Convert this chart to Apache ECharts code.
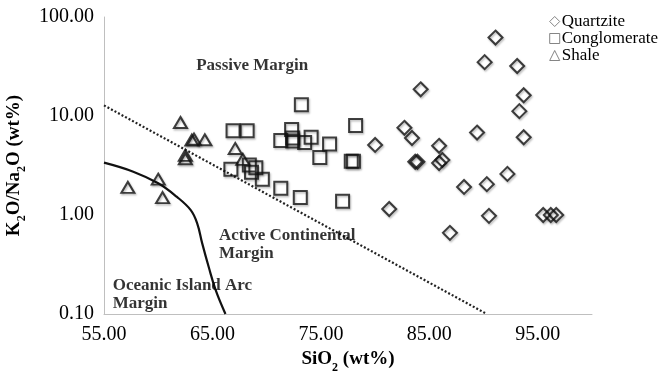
<!DOCTYPE html>
<html><head><meta charset="utf-8">
<script src="https://cdn.jsdelivr.net/npm/echarts@6.0.0/dist/echarts.min.js"></script>
<style>html,body{margin:0;padding:0;background:#fff}#c{width:663px;height:371px}</style>
</head><body><div id="c"></div>
<script>
// ---- data (SiO2 wt%, K2O/Na2O) ----
const quartzite = [
  [80.0,5.1],[81.3,1.15],[82.7,7.6],[83.4,6.0],[83.7,3.45],[83.9,3.45],[84.2,18.6],
  [85.9,5.0],[85.9,3.35],[86.2,3.6],[86.9,0.66],[88.2,1.92],[89.4,6.8],[90.1,35],
  [90.3,2.05],[90.5,0.98],[91.1,62],[92.2,2.6],[93.1,32],[93.3,11.2],[93.7,16.2],
  [93.7,6.1],[95.5,1.0],[96.2,1.0],[96.7,1.0]
];
const conglomerate = [
  [66.9,7.1],[68.2,7.1],[72.3,7.3],[73.2,13.0],[71.3,5.65],[72.4,6.0],[72.4,5.6],
  [73.5,5.4],[74.1,6.1],[75.8,5.2],[74.9,3.8],[78.2,8.0],[77.8,3.5],[78.0,3.5],
  [66.7,2.9],[68.4,3.2],[69.0,3.0],[68.6,2.7],[69.6,2.3],[71.3,1.86],[73.1,1.5],[77.0,1.38]
];
const shale = [
  [57.2,1.9],[60.0,2.3],[60.4,1.5],[62.05,8.6],[63.1,5.7],[63.3,5.85],[64.3,5.75],
  [62.5,4.0],[62.5,3.7],[67.1,4.7],[67.8,3.65]
];
// discrimination boundaries
const passiveActiveLine = [[55,12.8],[90.3,0.1]];
const arcBoundaryCurve = [
  [55,3.38],[57.7,2.74],[60.0,2.09],[61.7,1.53],[63.0,1.12],[63.6,0.82],
  [64.05,0.52],[64.65,0.30],[65.3,0.174],[66.2,0.1]
];
// field labels (placed in data space)
const fieldLabels = [
  {name:'Passive Margin', value:[63.5,32.4]},
  {name:'Active Continental\nMargin', value:[65.6,0.50]},
  {name:'Oceanic Island Arc\nMargin', value:[55.8,0.157]}
];
const xTickLabels = [55,65,75,85,95];

const FONT = '"Liberation Serif", "Times New Roman", serif';
const chart = echarts.init(document.getElementById('c'), null, {renderer:'canvas'});

const markerStyle = {
  color: 'rgba(255,255,255,0)', borderColor: '#111', borderWidth: 2,
  shadowColor: 'rgba(0,0,0,0.35)', shadowBlur: 2, shadowOffsetX: 1, shadowOffsetY: 1.5
};
const titleRich = {
  b: {fontFamily: FONT, fontWeight:'bold', fontSize: 19, color:'#000', lineHeight: 24, verticalAlign:'top'},
  s: {fontFamily: FONT, fontWeight:'bold', fontSize: 12, color:'#000', lineHeight: 13, verticalAlign:'bottom'}
};

chart.setOption({
  animation: false,
  backgroundColor: '#fff',
  grid: {left: 104, right: 71, top: 17, bottom: 57, containLabel: false, outerBoundsMode: 'none'},
  legend: {
    orient: 'vertical', right: 0, top: 8, itemGap: 0,
    itemWidth: 10, itemHeight: 10,
    data: ['Quartzite','Conglomerate','Shale'],
    itemStyle: {color:'rgba(255,255,255,0)', borderColor:'#666', borderWidth:1, shadowBlur:0, shadowOffsetX:0, shadowOffsetY:0},
    textStyle: {fontFamily: FONT, fontSize: 17, color:'#000', padding:[0,0,0,-3]}
  },
  xAxis: {
    type: 'value', min: 55, max: 100, interval: 5,
    name: '{b|SiO}{s|2}{b| (wt%)}', nameLocation: 'middle', nameGap: 36,
    nameTextStyle: {rich: titleRich},
    axisLine: {show: true, lineStyle: {color:'#bfbfbf', width:1}},
    axisTick: {show: false},
    splitLine: {show: false},
    axisLabel: {
      fontFamily: FONT, fontSize: 20, color:'#000', margin: 11,
      formatter: v => xTickLabels.indexOf(Math.round(v)) >= 0 ? v.toFixed(2) : ''
    }
  },
  yAxis: {
    type: 'log', logBase: 10, min: 0.1, max: 100, interval: 1,
    name: '{b|K}{s|2}{b|O/Na}{s|2}{b|O (wt%)}', nameLocation: 'middle', nameGap: 75, nameRotate: 90,
    nameTextStyle: {rich: titleRich},
    axisLine: {show: true, lineStyle: {color:'#bfbfbf', width:1}},
    axisTick: {show: false},
    splitLine: {show: false},
    axisLabel: {fontFamily: FONT, fontSize: 20, color:'#000', margin: 10, formatter: v => v.toFixed(2)}
  },
  series: [
    {type:'line', data: passiveActiveLine, showSymbol:false, silent:true, z:1,
     lineStyle:{color:'#222', width:2.2, type:[2,2]}},
    {type:'line', data: arcBoundaryCurve, showSymbol:false, silent:true, smooth:0.4, z:1,
     lineStyle:{color:'#111', width:2.2}},
    {name:'Quartzite', type:'scatter', data: quartzite, symbol:'diamond', symbolSize:[14,14], itemStyle: markerStyle, z:3},
    {name:'Conglomerate', type:'scatter', data: conglomerate, symbol:'rect', symbolSize:[13,13], itemStyle: markerStyle, z:3},
    {name:'Shale', type:'scatter', data: shale, symbol:'triangle', symbolSize:[13,11], itemStyle: markerStyle, z:3},
    {type:'scatter', data: fieldLabels, symbolSize: 0, silent:true, z:2,
     label:{show:true, position:'right', distance:0, formatter: p => p.name,
       fontFamily: FONT, fontWeight:'bold', fontSize: 17, color:'#000', lineHeight: 18, align:'left'}}
  ]
});
</script></body></html>
